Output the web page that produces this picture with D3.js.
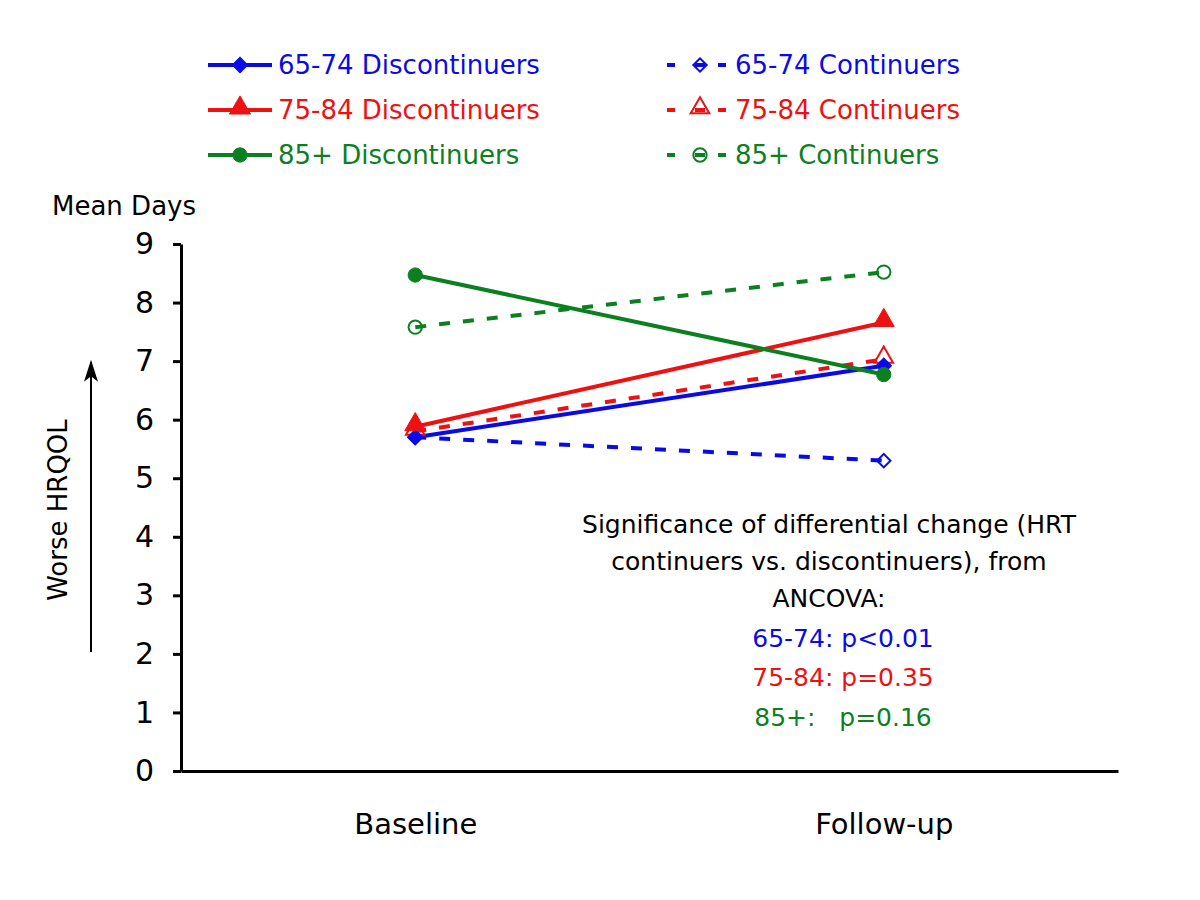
<!DOCTYPE html>
<html>
<head>
<meta charset="utf-8">
<script src="https://cdn.jsdelivr.net/npm/d3@7"></script>
<style>
  body { margin: 0; background: #fff; }
  text { font-family: "DejaVu Sans", Verdana, sans-serif; }
</style>
</head>
<body>
<div id="chart"></div>
<script>
// data
const timepoints = ["Baseline", "Follow-up"];
const yTicks = [0, 1, 2, 3, 4, 5, 6, 7, 8, 9];

const disc6574 = [5.70, 6.92];
const disc7584 = [5.88, 7.66];
const disc85 = [8.47, 6.77];
const cont6574 = [5.70, 5.30];
const cont7584 = [5.80, 7.03];
const cont85 = [7.58, 8.52];

const seriesNames = ["65-74 Discontinuers", "75-84 Discontinuers", "85+ Discontinuers",
                     "65-74 Continuers", "75-84 Continuers", "85+ Continuers"];
const pLines = ["65-74: p<0.01", "75-84: p=0.35", "85+:   p=0.16"];
const noteLines = ["Significance of differential change (HRT", "continuers vs. discontinuers), from", "ANCOVA:"];

const BLUE = "#0a0ae6", RED = "#ee1111", GREEN = "#0c8020";

const series = [
    {name: seriesNames[3], values: cont6574, color: BLUE, shape: "diamond", open: true},
    {name: seriesNames[4], values: cont7584, color: RED, shape: "triangle", open: true},
    {name: seriesNames[5], values: cont85, color: GREEN, shape: "circle", open: true},
    {name: seriesNames[0], values: disc6574, color: BLUE, shape: "diamond", open: false},
    {name: seriesNames[1], values: disc7584, color: RED, shape: "triangle", open: false},
    {name: seriesNames[2], values: disc85, color: GREEN, shape: "circle", open: false}
];

const width = 1200, height = 900;
const svg = d3.select("#chart").append("svg").attr("width", width).attr("height", height);

const x = d3.scalePoint().domain(timepoints).range([181, 1118]).padding(0.5);
const y = d3.scaleLinear().domain([0, 9]).range([771, 244]);

function symbolPath(shape, open){
    if(shape == "diamond") return d3.symbol(d3.symbolSquare, open ? 90 : 120)();
    if(shape == "triangle") return d3.symbol(d3.symbolTriangle, open ? 150 : 190)();
    return d3.symbol(d3.symbolCircle, open ? 140 : 160)();
}

function drawMarker(g, s, cx, cy){
    const rot = s.shape == "diamond" ? " rotate(45)" : "";
    const dy = s.shape == "triangle" ? -2 : 0;
    g.append("path")
        .attr("d", symbolPath(s.shape, s.open))
        .attr("transform", `translate(${cx},${cy + dy})${rot}`)
        .attr("fill", s.open ? "none" : s.color)
        .attr("stroke", s.color)
        .attr("stroke-width", s.open ? 2 : 1);
}

// axes
const yAxis = d3.axisLeft(y).tickValues(yTicks).tickSize(8).tickPadding(19).tickSizeOuter(0);
const yg = svg.append("g").attr("transform", "translate(181,0)").call(yAxis);
yg.select(".domain").attr("stroke", "#000").attr("stroke-width", 3);
yg.selectAll(".tick line").attr("stroke", "#000").attr("stroke-width", 3);
yg.selectAll(".tick text").attr("font-size", 30).attr("fill", "#000")
    .attr("font-family", "DejaVu Sans");

const xAxis = d3.axisBottom(x).tickSize(0).tickPadding(42);
const xg = svg.append("g").attr("transform", "translate(0,771)").call(xAxis);
xg.select(".domain").attr("stroke", "#000").attr("stroke-width", 3);
xg.selectAll(".tick text").attr("font-size", 29).attr("fill", "#000")
    .attr("font-family", "DejaVu Sans");

// lines + markers
const line = d3.line().x((d, i) => x(timepoints[i])).y(d => y(d));
series.forEach(s => {
    svg.append("path")
        .datum(s.values)
        .attr("d", line)
        .attr("fill", "none")
        .attr("stroke", s.color)
        .attr("stroke-width", 4)
        .attr("stroke-dasharray", s.open ? "11,13" : null);
});
series.forEach(s => {
    s.values.forEach((v, i) => drawMarker(svg, s, x(timepoints[i]), y(v)));
});

// y labels
svg.append("text").attr("x", 52).attr("y", 215).attr("font-size", 26).text("Mean Days");
svg.append("text")
    .attr("transform", "translate(67,510) rotate(-90)")
    .attr("text-anchor", "middle")
    .attr("font-size", 26)
    .text("Worse HRQOL");
svg.append("defs").append("marker")
    .attr("id", "arrow").attr("viewBox", "0 0 10 10")
    .attr("preserveAspectRatio", "none")
    .attr("refX", 9).attr("refY", 5)
    .attr("markerWidth", 22).attr("markerHeight", 14)
    .attr("markerUnits", "userSpaceOnUse")
    .attr("orient", "auto")
    .append("path").attr("d", "M0,0 L10,5 L0,10 L2.5,5 Z").attr("fill", "#000");
svg.append("line")
    .attr("x1", 91).attr("y1", 652).attr("x2", 91).attr("y2", 362)
    .attr("stroke", "#000").attr("stroke-width", 2)
    .attr("marker-end", "url(#arrow)");

// legend
const legendRows = [65, 110, 155];
const discSeries = series.slice(3), contSeries = series.slice(0, 3);
discSeries.forEach((s, i) => {
    const g = svg.append("g");
    g.append("line").attr("x1", 208).attr("x2", 272)
        .attr("y1", legendRows[i]).attr("y2", legendRows[i])
        .attr("stroke", s.color).attr("stroke-width", 4);
    drawMarker(g, s, 240, legendRows[i]);
    g.append("text").attr("x", 278).attr("y", legendRows[i]).attr("dy", "0.35em")
        .attr("font-size", 26).attr("fill", s.color).text(s.name);
});
contSeries.forEach((s, i) => {
    const g = svg.append("g");
    [[667, 675], [695, 705], [718, 726]].forEach(p => {
        g.append("line").attr("x1", p[0]).attr("x2", p[1])
            .attr("y1", legendRows[i]).attr("y2", legendRows[i])
            .attr("stroke", s.color).attr("stroke-width", 4);
    });
    drawMarker(g, s, 700, legendRows[i]);
    g.append("text").attr("x", 735).attr("y", legendRows[i]).attr("dy", "0.35em")
        .attr("font-size", 26).attr("fill", s.color).text(s.name);
});

// annotation
const noteColors = [BLUE, RED, GREEN];
const noteY = [524, 561, 598];
noteLines.forEach((t, i) => {
    svg.append("text").attr("x", 829).attr("y", noteY[i]).attr("dy", "0.35em")
        .attr("text-anchor", "middle").attr("font-size", 25).text(t);
});
const pY = [638, 677, 717];
pLines.forEach((t, i) => {
    svg.append("text").attr("x", 843).attr("y", pY[i]).attr("dy", "0.35em")
        .attr("text-anchor", "middle").attr("font-size", 25)
        .attr("fill", noteColors[i]).style("white-space", "pre").text(t);
});
</script>
</body>
</html>
